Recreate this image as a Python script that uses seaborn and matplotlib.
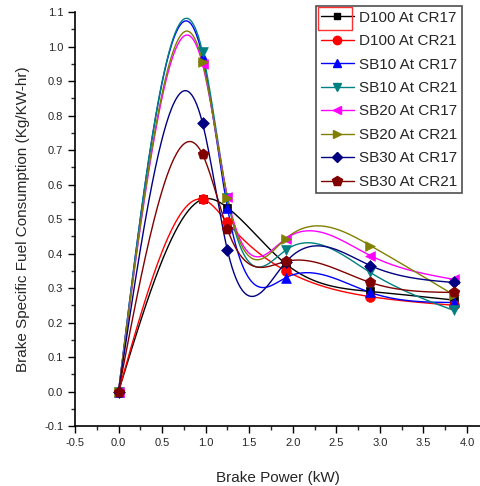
import numpy as np
import pandas as pd
import matplotlib
matplotlib.use("Agg")
import matplotlib.pyplot as plt
from matplotlib.lines import Line2D
from matplotlib.patches import Rectangle
import seaborn as sns

# ---- data ----
power = [0.0, 0.965, 1.25, 1.92, 2.89, 3.85]
labels = ["D100 At CR17", "D100 At CR21", "SB10 At CR17", "SB10 At CR21",
          "SB20 At CR17", "SB20 At CR21", "SB30 At CR17", "SB30 At CR21"]
d100_cr17 = [0.0, 0.557, 0.533, 0.37, 0.29, 0.265]
d100_cr21 = [0.0, 0.557, 0.49, 0.35, 0.275, 0.25]
sb10_cr17 = [0.0, 0.97, 0.533, 0.33, 0.287, 0.258]
sb10_cr21 = [0.0, 0.983, 0.56, 0.41, 0.345, 0.235]
sb20_cr17 = [0.0, 0.948, 0.565, 0.443, 0.394, 0.325]
sb20_cr21 = [0.0, 0.955, 0.56, 0.443, 0.423, 0.28]
sb30_cr17 = [0.0, 0.777, 0.41, 0.375, 0.365, 0.316]
sb30_cr21 = [0.0, 0.687, 0.47, 0.377, 0.316, 0.287]
series = [d100_cr17, d100_cr21, sb10_cr17, sb10_cr21,
          sb20_cr17, sb20_cr21, sb30_cr17, sb30_cr21]

colors = ["#000000", "#ff0000", "#0000ff", "#008080",
          "#ff00ff", "#808000", "#000080", "#800000"]
markers = ["s", "o", "^", "v", "<", ">", "D", "p"]
msizes = [6, 7, 7, 7, 7, 7, 6, 8]


def natural_spline(x, y, xs):
    x = np.asarray(x, float); y = np.asarray(y, float)
    n = len(x); h = np.diff(x)
    A = np.zeros((n, n)); r = np.zeros(n)
    A[0, 0] = 1; A[-1, -1] = 1
    for i in range(1, n - 1):
        A[i, i - 1] = h[i - 1]
        A[i, i] = 2 * (h[i - 1] + h[i])
        A[i, i + 1] = h[i]
        r[i] = 6 * ((y[i + 1] - y[i]) / h[i] - (y[i] - y[i - 1]) / h[i - 1])
    M = np.linalg.solve(A, r)
    out = np.empty_like(xs)
    for k, t in enumerate(xs):
        i = min(max(np.searchsorted(x, t) - 1, 0), n - 2)
        a = x[i + 1] - t; b = t - x[i]
        out[k] = (M[i] * a**3 + M[i + 1] * b**3) / (6 * h[i]) \
            + (y[i] / h[i] - M[i] * h[i] / 6) * a \
            + (y[i + 1] / h[i] - M[i + 1] * h[i] / 6) * b
    return out


sns.set_theme(style="ticks")
plt.rcParams['font.family'] = ['Liberation Sans', 'DejaVu Sans']

fig = plt.figure(figsize=(4.8, 4.86), dpi=100)
ax = fig.add_axes([75 / 480, 60 / 486, 405 / 480, 414 / 486])

xs = np.linspace(power[0], power[-1], 400)
for lab, ys, c, m, ms in zip(labels, series, colors, markers, msizes):
    curve = pd.DataFrame({"x": xs, "y": natural_spline(power, ys, xs)})
    sns.lineplot(data=curve, x="x", y="y", color=c, lw=1.0, ax=ax,
                 sort=False, estimator=None)
    pts = pd.DataFrame({"x": power, "y": ys})
    sns.scatterplot(data=pts, x="x", y="y", color=c, marker=m, s=ms**2,
                    edgecolor=c, linewidth=0.5, ax=ax, zorder=5)

ax.set_xlim(-0.5, 4.15)
ax.set_ylim(-0.1, 1.1)
ax.set_xticks(np.arange(-0.5, 4.01, 0.5))
ax.set_xticks(np.arange(-0.5, 4.15, 0.25), minor=True)
ax.set_yticks(np.round(np.arange(-0.1, 1.101, 0.1), 1))
ax.set_yticks(np.arange(-0.1, 1.1, 0.05), minor=True)
ax.xaxis.set_major_formatter(matplotlib.ticker.FormatStrFormatter("%.1f"))
ax.yaxis.set_major_formatter(matplotlib.ticker.FormatStrFormatter("%.1f"))
ax.tick_params(axis="both", which="major", length=5, width=1, labelsize=8,
               direction="out", color="black")
ax.tick_params(axis="both", which="minor", length=3, width=1, direction="out")
for s in ["top", "right"]:
    ax.spines[s].set_visible(False)
for s in ["left", "bottom"]:
    ax.spines[s].set_color("black")
    ax.spines[s].set_linewidth(1.2)
ax.set_xlabel("Brake Power (kW)", fontsize=11, labelpad=17)
ax.set_ylabel("Brake Specific Fuel Consumption (Kg/KW-hr)", fontsize=11,
              labelpad=10)

handles = [Line2D([0], [0], color=c, marker=m, markersize=ms - 1, lw=1.0,
                  markeredgecolor=c)
           for c, m, ms in zip(colors, markers, msizes)]
leg = ax.legend(handles, labels, loc="upper left",
                bbox_to_anchor=(316 / 480, 1 - 6 / 486), bbox_transform=fig.transFigure,
                fontsize=11, frameon=True, fancybox=False, handlelength=2.2,
                handletextpad=0.3, borderpad=0.3, labelspacing=0.62,
                borderaxespad=0)
leg.get_frame().set_edgecolor("#222222")
leg.get_frame().set_linewidth(1.2)

# selection box around first legend symbol, as in the reference
fig.patches.append(Rectangle((318 / 480, 1 - 30 / 486), 34 / 480, 23 / 486,
                             transform=fig.transFigure, fill=False,
                             edgecolor="#ff3030", lw=1.0, zorder=10))

fig.savefig("out.png", dpi=100)
